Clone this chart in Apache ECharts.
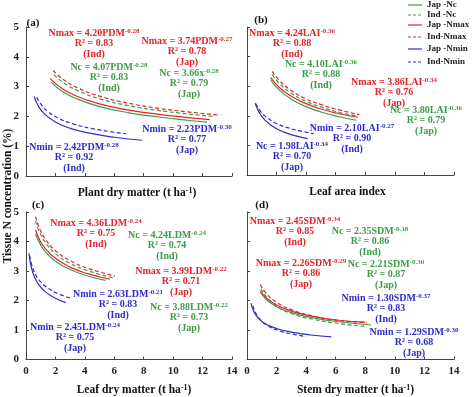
<!DOCTYPE html>
<html>
<head>
<meta charset="utf-8">
<script src="https://cdn.jsdelivr.net/npm/echarts@6/dist/echarts.min.js"></script>
<style>
html, body { margin: 0; padding: 0; background: #fff; }
#chart { width: 474px; height: 397px; }
</style>
</head>
<body>
<div id="chart"></div>
<script>
// curve points, [x, N%]
// (a) plant dry matter
const aJapNc   = [[1.7,3.15],[2.5,2.83],[3.5,2.58],[5,2.33],[7,2.12],[9,1.98],[11,1.87],[12.3,1.81]];
const aIndNc   = [[1.9,3.40],[2.5,3.15],[3.5,2.87],[5,2.59],[7,2.36],[9,2.20],[11,2.08],[12.7,2.00]];
const aJapNmax = [[1.65,3.27],[2.5,2.92],[3.5,2.67],[5,2.42],[7,2.21],[9,2.07],[11,1.96],[12.5,1.89]];
const aIndNmax = [[1.85,3.54],[2.5,3.25],[3.5,2.96],[5,2.68],[7,2.44],[9,2.27],[11,2.15],[13,2.05]];
const aJapNmin = [[0.55,2.67],[0.8,2.38],[1.2,2.11],[2,1.81],[3,1.60],[4.5,1.42],[6,1.30],[7.9,1.20]];
const aIndNmin = [[0.73,2.64],[1,2.42],[1.5,2.16],[2.2,1.94],[3.2,1.75],[4.5,1.59],[5.7,1.49],[6.8,1.42]];
// (b) leaf area index
const bJapNc   = [[1.6,3.21],[2.2,2.86],[3,2.56],[4,2.31],[5,2.13],[6.3,1.96],[7.4,1.85]];
const bIndNc   = [[1.7,3.39],[2.2,3.09],[3,2.76],[4,2.49],[5,2.30],[6.3,2.11],[7.5,1.99]];
const bJapNmax = [[1.6,3.29],[2.2,2.95],[3,2.66],[4,2.41],[5,2.23],[6.3,2.06],[7.5,1.95]];
const bIndNmax = [[1.7,3.50],[2.2,3.19],[3,2.85],[4,2.57],[5,2.38],[6.3,2.19],[7.6,2.04]];
const bJapNmin = [[0.55,2.43],[0.8,2.14],[1.2,1.86],[1.8,1.62],[2.5,1.45],[3.3,1.32],[4.1,1.23]];
const bIndNmin = [[0.6,2.41],[0.9,2.16],[1.3,1.96],[2,1.74],[2.8,1.59],[3.6,1.49],[4.5,1.40]];
// (c) leaf dry matter
const cJapNc   = [[0.65,4.26],[0.9,3.97],[1.3,3.66],[2,3.33],[3,3.05],[4.2,2.83],[5.4,2.68]];
const cIndNc   = [[0.65,4.70],[0.9,4.35],[1.3,3.98],[2,3.59],[3,3.26],[4.2,3.01],[5.9,2.77]];
const cJapNmax = [[0.65,4.39],[0.9,4.08],[1.3,3.77],[2,3.43],[3,3.13],[4.2,2.91],[5.7,2.72]];
const cIndNmax = [[0.65,4.84],[0.9,4.47],[1.3,4.09],[2,3.69],[3,3.35],[4.2,3.09],[6.05,2.83]];
const cJapNmin = [[0.2,3.60],[0.35,3.15],[0.55,2.83],[0.85,2.55],[1.3,2.30],[1.9,2.10],[2.7,1.93]];
const cIndNmin = [[0.25,3.52],[0.4,3.19],[0.65,2.88],[1,2.63],[1.5,2.42],[2.2,2.23],[3.1,2.07]];
// (d) stem dry matter
const dJapNc   = [[0.9,2.28],[1.3,2.04],[2,1.79],[3,1.59],[4.5,1.41],[6.2,1.28],[8.4,1.17]];
const dIndNc   = [[0.95,2.40],[1.3,2.13],[2,1.81],[3,1.56],[4.5,1.36],[6.2,1.22],[8,1.12]];
const dJapNmax = [[0.9,2.33],[1.3,2.09],[2,1.85],[3,1.64],[4.5,1.46],[6.2,1.33],[8,1.27]];
const dIndNmax = [[0.9,2.54],[1.3,2.24],[2,1.94],[3,1.69],[4.5,1.47],[6.2,1.32],[8.1,1.25]];
const dJapNmin = [[0.27,1.91],[0.45,1.64],[0.75,1.41],[1.2,1.22],[2,1.05],[3,0.93],[4.3,0.83],[5.7,0.77]];
const dIndNmin = [[0.4,1.82],[0.6,1.57],[0.9,1.35],[1.4,1.15],[2.2,0.97],[3.1,0.86],[4,0.78]];

const legendNames = ['Jap -Nc', 'Ind -Nc', 'Jap -Nmax', 'Ind-Nmax', 'Jap -Nmin', 'Ind-Nmin'];
const xTitles = ['Plant dry matter (t ha{s|-1})', 'Leaf area index', 'Leaf dry matter (t ha{s|-1})', 'Stem dry matter (t ha{s|-1})'];
const panelTags = ['(a)', '(b)', '(c)', '(d)'];

// equation, exponent, R², group
const notes = [
  ['Nmax = 4.20PDM', '-0.28', '0.83', 'Ind'],
  ['Nc = 4.07PDM', '-0.28', '0.83', 'Ind'],
  ['Nmax = 3.74PDM', '-0.27', '0.78', 'Jap'],
  ['Nc = 3.66x', '-0.28', '0.79', 'Jap'],
  ['Nmin = 2.23PDM', '-0.30', '0.77', 'Jap'],
  ['Nmin = 2.42PDM', '-0.28', '0.92', 'Ind'],
  ['Nmax = 4.24LAI', '-0.36', '0.88', 'Ind'],
  ['Nc = 4.10LAI', '-0.36', '0.88', 'Ind'],
  ['Nmax = 3.86LAI', '-0.34', '0.76', 'Jap'],
  ['Nc = 3.80LAI', '-0.36', '0.79', 'Jap'],
  ['Nmin = 2.10LAI', '-0.27', '0.90', 'Ind'],
  ['Nc = 1.98LAI', '-0.34', '0.70', 'Jap'],
  ['Nmax = 4.36LDM', '-0.24', '0.75', 'Ind'],
  ['Nc = 4.24LDM', '-0.24', '0.74', 'Ind'],
  ['Nmax = 3.99LDM', '-0.22', '0.71', 'Jap'],
  ['Nc = 3.88LDM', '-0.22', '0.73', 'Jap'],
  ['Nmin = 2.63LDM', '-0.21', '0.83', 'Ind'],
  ['Nmin = 2.45LDM', '-0.24', '0.75', 'Jap'],
  ['Nmax = 2.45SDM', '-0.34', '0.85', 'Ind'],
  ['Nc = 2.35SDM', '-0.38', '0.86', 'Ind'],
  ['Nmax = 2.26SDM', '-0.29', '0.86', 'Jap'],
  ['Nc = 2.21SDM', '-0.30', '0.87', 'Jap'],
  ['Nmin = 1.30SDM', '-0.37', '0.83', 'Ind'],
  ['Nmin = 1.29SDM', '-0.30', '0.68', 'Jap']
];

const RED = '#e3242b', GREEN = '#3f9b4a', BLUE = '#2d2dcc';
const FONT = '"Liberation Serif", "Times New Roman", serif';

// where each note sits: [x of centre, y of first line, colour]
const notePos = [
  [94, 28, RED], [109, 62, GREEN], [187, 36, RED], [189, 68, GREEN], [187, 124, BLUE], [74, 142, BLUE],
  [292, 28, RED], [321, 59, GREEN], [394, 77, RED], [426, 105, GREEN], [352, 123, BLUE], [292, 141, BLUE],
  [96, 218, RED], [167, 230, GREEN], [181, 266, RED], [189, 302, GREEN], [118, 289, BLUE], [75, 322, BLUE],
  [295, 216, RED], [370, 226, GREEN], [301, 258, RED], [386, 259, GREEN], [386, 293, BLUE], [414, 327, BLUE]
];

const grids = [
  { left: 26, top: 27, width: 206, height: 149 },
  { left: 247, top: 27, width: 207, height: 148 },
  { left: 26, top: 212, width: 206, height: 150 },
  { left: 247, top: 212, width: 207, height: 150 }
];

const axisCommon = {
  axisLine: { lineStyle: { color: '#444', width: 1 } },
  axisTick: { inside: true, length: 3, lineStyle: { color: '#444' } },
  splitLine: { show: false }
};
const labelStyle = { fontFamily: FONT, fontWeight: 'bold', fontSize: 11, color: '#222' };
const supRich = { s: { fontSize: 8, verticalAlign: 'top', lineHeight: 13, fontWeight: 'bold', fontFamily: FONT } };
const namePad = [[0, 0, 0, 16], [0, 0, 0, -6], [0, 0, 0, 10], [0, 0, 0, 10]];

const xAxes = grids.map((g, i) => Object.assign({}, axisCommon, {
  type: 'value', gridIndex: i, min: 0, max: 14, interval: 2,
  axisLabel: Object.assign({ show: i >= 2, margin: 6 }, labelStyle),
  name: xTitles[i], nameLocation: 'middle', nameGap: i >= 2 ? 24 : 11,
  nameTextStyle: { fontFamily: FONT, fontWeight: 'bold', fontSize: 11.5, color: '#111', rich: supRich, padding: namePad[i] }
}));
const yAxes = grids.map((g, i) => Object.assign({}, axisCommon, {
  type: 'value', gridIndex: i, min: 0, max: 5, interval: 1,
  axisLabel: Object.assign({ show: i % 2 === 0, margin: 7 }, labelStyle)
}));

function curve(name, data, color, dashed, idx) {
  return {
    type: 'line', name: name, data: data, xAxisIndex: idx, yAxisIndex: idx,
    smooth: true, symbol: 'none', silent: true,
    lineStyle: { color: color, width: 1.2, type: dashed ? [4, 2.5] : 'solid' },
    itemStyle: { color: color }
  };
}

const panels = [
  [aJapNc, aIndNc, aJapNmax, aIndNmax, aJapNmin, aIndNmin],
  [bJapNc, bIndNc, bJapNmax, bIndNmax, bJapNmin, bIndNmin],
  [cJapNc, cIndNc, cJapNmax, cIndNmax, cJapNmin, cIndNmin],
  [dJapNc, dIndNc, dJapNmax, dIndNmax, dJapNmin, dIndNmin]
];
const colors = [GREEN, GREEN, RED, RED, BLUE, BLUE];
const series = [];
panels.forEach((set, p) => {
  set.forEach((d, k) => series.push(curve(legendNames[k], d, colors[k], k % 2 === 1, p)));
});

const graphic = [];
notes.forEach((n, i) => {
  const pos = notePos[i];
  graphic.push({
    type: 'text', x: pos[0], y: pos[1], silent: true,
    style: {
      text: n[0] + '{s|' + n[1] + '}\nR² = ' + n[2] + '\n(' + n[3] + ')',
      align: 'center', verticalAlign: 'top', lineHeight: 10.5,
      fontFamily: FONT, fontWeight: 'bold', fontSize: 10, fill: pos[2],
      rich: { s: { fontSize: 7, verticalAlign: 'top', fontFamily: FONT, fontWeight: 'bold', fill: pos[2] } }
    }
  });
});
const tagPos = [[33, 23], [261, 20], [38, 205], [262, 205]];
panelTags.forEach((t, i) => graphic.push({
  type: 'text', x: tagPos[i][0], y: tagPos[i][1], silent: true,
  style: { text: t, align: 'center', verticalAlign: 'middle', fontFamily: FONT, fontWeight: 'bold', fontSize: 11, fill: '#111' }
}));
graphic.push({
  type: 'text', x: 8, y: 196, rotation: Math.PI / 2, silent: true,
  style: { text: 'Tissue N concentration (%)', align: 'center', verticalAlign: 'middle', fontFamily: FONT, fontWeight: 'bold', fontSize: 11.5, fill: '#111' }
});

// legend drawn by hand so the keys are plain solid / dashed strokes
const legendRows = [5, 15, 25, 37, 49, 62];
legendNames.forEach((nm, k) => {
  const y = legendRows[k];
  graphic.push({
    type: 'line', silent: true,
    shape: { x1: 408, y1: y, x2: 422, y2: y },
    style: { stroke: colors[k], lineWidth: 1.2, lineDash: k % 2 === 1 ? [3, 2] : null }
  });
  graphic.push({
    type: 'text', x: 427, y: y, silent: true,
    style: { text: nm, align: 'left', verticalAlign: 'middle', fontFamily: FONT, fontWeight: 'bold', fontSize: 9, fill: '#222' }
  });
});

const chart = echarts.init(document.getElementById('chart'));
chart.setOption({
  animation: false,
  backgroundColor: '#fff',
  grid: grids,
  xAxis: xAxes,
  yAxis: yAxes,
  series: series,
  graphic: graphic
});
</script>
</body>
</html>
